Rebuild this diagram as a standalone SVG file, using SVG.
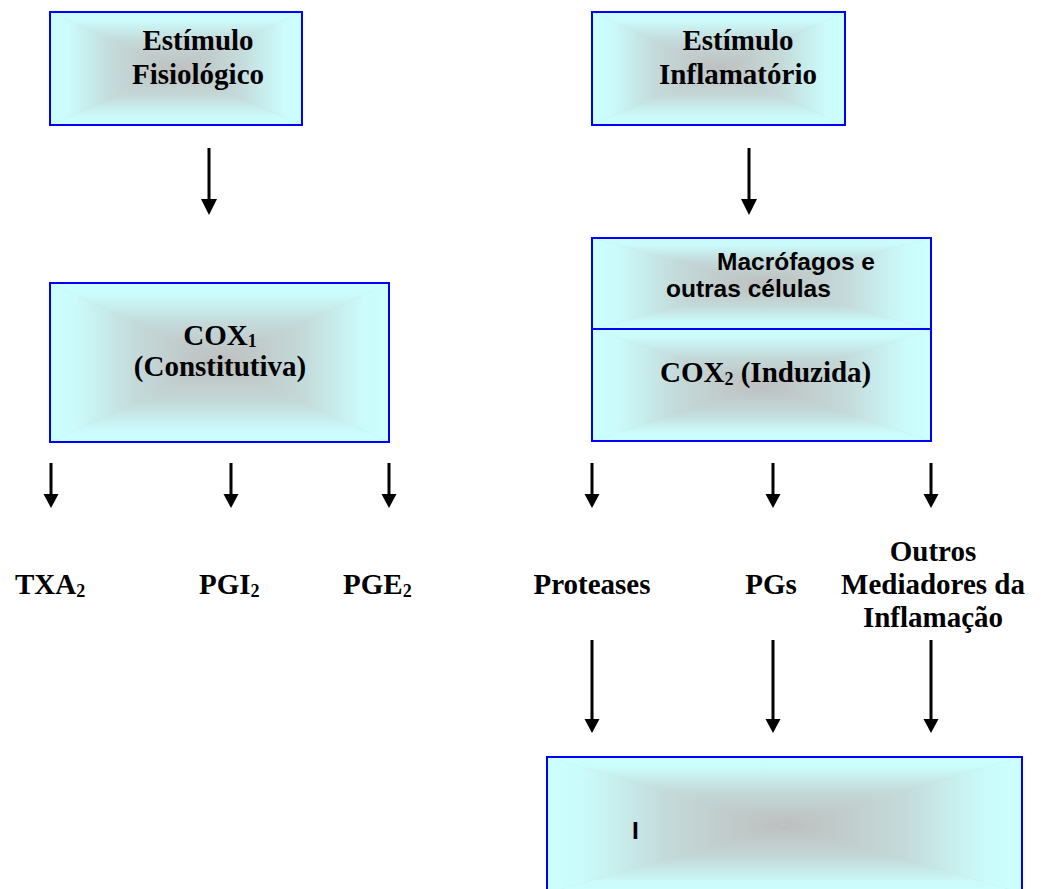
<svg xmlns="http://www.w3.org/2000/svg" width="1044" height="889" viewBox="0 0 1044 889">
<style>
.t{font-family:"Liberation Serif","Times New Roman",serif;font-weight:bold;font-size:29px;fill:#000}
.a{font-family:"Liberation Sans",Arial,sans-serif;font-weight:bold;font-size:24.5px;fill:#000}
.m{text-anchor:middle}
.border{fill:none;stroke:#0000ff;stroke-width:2}
.base{fill:#c4dcdc}
.ar{fill:#000}
.sh{stroke:#000;stroke-width:3}
</style>
<defs>
<linearGradient id="gT" x1="0" y1="0" x2="0" y2="1"><stop offset="0" stop-color="#ccffff"/><stop offset="0.15" stop-color="#cbfbfb"/><stop offset="0.5" stop-color="#c4dada"/><stop offset="1" stop-color="#bebebe"/></linearGradient>
<linearGradient id="gB" x1="0" y1="1" x2="0" y2="0"><stop offset="0" stop-color="#ccffff"/><stop offset="0.15" stop-color="#cbfbfb"/><stop offset="0.5" stop-color="#c4dada"/><stop offset="1" stop-color="#bebebe"/></linearGradient>
<linearGradient id="gL" x1="0" y1="0" x2="1" y2="0"><stop offset="0" stop-color="#ccffff"/><stop offset="0.15" stop-color="#cbfbfb"/><stop offset="0.5" stop-color="#c4dada"/><stop offset="1" stop-color="#bebebe"/></linearGradient>
<linearGradient id="gR" x1="1" y1="0" x2="0" y2="0"><stop offset="0" stop-color="#ccffff"/><stop offset="0.15" stop-color="#cbfbfb"/><stop offset="0.5" stop-color="#c4dada"/><stop offset="1" stop-color="#bebebe"/></linearGradient>
</defs>

<g id="estimulo-fisiologico">
<rect class="base" x="50" y="12" width="252" height="113"/>
<polygon fill="url(#gT)" points="50,12 302,12 176,68.5"/>
<polygon fill="url(#gB)" points="50,125 302,125 176,68.5"/>
<polygon fill="url(#gL)" points="50,12 50,125 176,68.5"/>
<polygon fill="url(#gR)" points="302,12 302,125 176,68.5"/>
<rect class="border" x="50" y="12" width="252" height="113"/>
<text class="t m" x="198" y="50">Estímulo</text>
<text class="t m" x="198" y="84">Fisiológico</text>
</g>

<g id="estimulo-inflamatorio">
<rect class="base" x="592" y="12" width="253" height="113"/>
<polygon fill="url(#gT)" points="592,12 845,12 718.5,68.5"/>
<polygon fill="url(#gB)" points="592,125 845,125 718.5,68.5"/>
<polygon fill="url(#gL)" points="592,12 592,125 718.5,68.5"/>
<polygon fill="url(#gR)" points="845,12 845,125 718.5,68.5"/>
<rect class="border" x="592" y="12" width="253" height="113"/>
<text class="t m" x="738" y="50">Estímulo</text>
<text class="t m" x="738" y="84">Inflamatório</text>
</g>

<g id="cox1">
<rect class="base" x="50" y="283" width="339" height="159"/>
<polygon fill="url(#gT)" points="50,283 389,283 219.5,362.5"/>
<polygon fill="url(#gB)" points="50,442 389,442 219.5,362.5"/>
<polygon fill="url(#gL)" points="50,283 50,442 219.5,362.5"/>
<polygon fill="url(#gR)" points="389,283 389,442 219.5,362.5"/>
<rect class="border" x="50" y="283" width="339" height="159"/>
<text class="t m" x="220" y="345">COX<tspan font-size="18" dy="2">1</tspan></text>
<text class="t m" x="220" y="376">(Constitutiva)</text>
</g>

<g id="macrofagos">
<rect class="base" x="592" y="238" width="339" height="91"/>
<polygon fill="url(#gT)" points="592,238 931,238 761.5,283.5"/>
<polygon fill="url(#gB)" points="592,329 931,329 761.5,283.5"/>
<polygon fill="url(#gL)" points="592,238 592,329 761.5,283.5"/>
<polygon fill="url(#gR)" points="931,238 931,329 761.5,283.5"/>
<rect class="border" x="592" y="238" width="339" height="91"/>
<text class="a" x="717" y="270">Macrófagos e</text>
<text class="a" x="666" y="297">outras células</text>
</g>

<g id="cox2">
<rect class="base" x="592" y="329" width="339" height="112"/>
<polygon fill="url(#gT)" points="592,329 931,329 761.5,385"/>
<polygon fill="url(#gB)" points="592,441 931,441 761.5,385"/>
<polygon fill="url(#gL)" points="592,329 592,441 761.5,385"/>
<polygon fill="url(#gR)" points="931,329 931,441 761.5,385"/>
<rect class="border" x="592" y="329" width="339" height="112"/>
<text class="t" x="660" y="382">COX<tspan font-size="18" dy="3">2</tspan><tspan dy="-3"> (Induzida)</tspan></text>
</g>

<g id="txa2"><text class="t" x="15" y="594">TXA<tspan font-size="18" dy="3">2</tspan></text></g>
<g id="pgi2"><text class="t" x="199" y="594">PGI<tspan font-size="18" dy="3">2</tspan></text></g>
<g id="pge2"><text class="t" x="343" y="594">PGE<tspan font-size="18" dy="3">2</tspan></text></g>
<g id="proteases"><text class="t m" x="592" y="594">Proteases</text></g>
<g id="pgs"><text class="t m" x="771" y="594">PGs</text></g>
<g id="outros">
<text class="t m" x="933" y="561">Outros</text>
<text class="t m" x="933" y="594">Mediadores da</text>
<text class="t m" x="933" y="627">Inflamação</text>
</g>

<g id="inflamacao">
<rect class="base" x="547" y="757" width="475" height="136"/>
<polygon fill="url(#gT)" points="547,757 1022,757 784.5,825"/>
<polygon fill="url(#gB)" points="547,893 1022,893 784.5,825"/>
<polygon fill="url(#gL)" points="547,757 547,893 784.5,825"/>
<polygon fill="url(#gR)" points="1022,757 1022,893 784.5,825"/>
<rect class="border" x="547" y="757" width="475" height="136"/>
<text class="a" x="632" y="839" font-size="29">I</text>
</g>

<g id="connectors">
<line class="sh" x1="209" y1="148" x2="209" y2="201"/><polygon class="ar" points="201,199 217,199 209,215"/>
<line class="sh" x1="749" y1="148" x2="749" y2="201"/><polygon class="ar" points="741,199 757,199 749,215"/>
<line class="sh" x1="51" y1="463" x2="51" y2="496"/><polygon class="ar" points="43.5,494 58.5,494 51,508"/>
<line class="sh" x1="231" y1="463" x2="231" y2="496"/><polygon class="ar" points="223.5,494 238.5,494 231,508"/>
<line class="sh" x1="389" y1="463" x2="389" y2="496"/><polygon class="ar" points="381.5,494 396.5,494 389,508"/>
<line class="sh" x1="592" y1="463" x2="592" y2="496"/><polygon class="ar" points="584.5,494 599.5,494 592,508"/>
<line class="sh" x1="773" y1="463" x2="773" y2="496"/><polygon class="ar" points="765.5,494 780.5,494 773,508"/>
<line class="sh" x1="931" y1="463" x2="931" y2="496"/><polygon class="ar" points="923.5,494 938.5,494 931,508"/>
<line class="sh" x1="592" y1="640" x2="592" y2="721"/><polygon class="ar" points="584.5,719 599.5,719 592,733"/>
<line class="sh" x1="773" y1="640" x2="773" y2="721"/><polygon class="ar" points="765.5,719 780.5,719 773,733"/>
<line class="sh" x1="931" y1="640" x2="931" y2="721"/><polygon class="ar" points="923.5,719 938.5,719 931,733"/>
</g>
</svg>
